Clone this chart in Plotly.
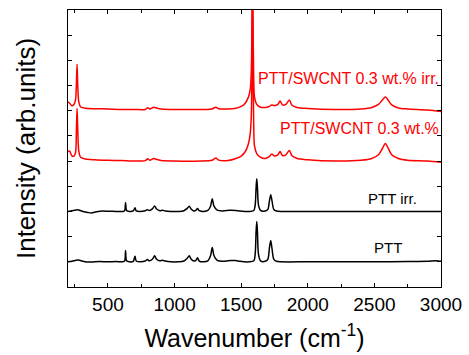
import plotly.graph_objects as go

# ---- data (intensities relative to each baseline) ----
PTT_WN = [200, 230, 260, 280, 300, 330, 350, 375, 400, 440, 500, 560, 610, 625, 632, 640, 660, 690,
          703, 712, 740, 780, 795, 810, 835, 850, 865, 890, 910, 930, 970, 1030, 1070, 1095,
          1110, 1125, 1145, 1160, 1172, 1185, 1220, 1250, 1270, 1283, 1296, 1320, 1360, 1400,
          1420, 1460, 1490, 1560, 1595, 1605, 1612, 1617, 1622, 1630, 1645, 1680, 1700, 1712,
          1722, 1732, 1745, 1765, 1800, 2000, 2250, 2500, 2750, 2900, 2960, 3000]

PTT = [0.0, 0.02, 0.06, 0.07, 0.04, 0.0, -0.01, -0.01, 0.0, 0.01, 0.0, 0.01, 0.0, 0.03, 0.45, 0.04,
       0.0, 0.02, 0.22, 0.03, 0.0, 0.03, 0.09, 0.04, 0.11, 0.24, 0.1, 0.04, 0.06, 0.03, 0.0, 0.0,
       0.03, 0.14, 0.24, 0.1, 0.03, 0.06, 0.16, 0.03, 0.0, 0.04, 0.24, 0.57, 0.24, 0.06, 0.02,
       0.04, 0.05, 0.05, 0.02, 0.0, 0.04, 0.3, 1.2, 1.6, 1.2, 0.3, 0.04, 0.02, 0.1, 0.55, 0.85,
       0.5, 0.1, 0.02, 0.0, 0.0, 0.0, 0.0, 0.01, 0.02, 0.04, 0.02]

PTT_IRR = [0.0, 0.03, 0.06, 0.06, 0.02, -0.02, -0.04, -0.06, -0.03, 0.01, 0.01, 0.0, 0.0, 0.03, 0.36,
           0.04, 0.0, 0.02, 0.15, 0.02, 0.0, 0.03, 0.07, 0.04, 0.11, 0.22, 0.1, 0.03, 0.05, 0.02,
           0.0, 0.0, 0.03, 0.12, 0.21, 0.09, 0.02, 0.04, 0.12, 0.03, 0.0, 0.04, 0.21, 0.5, 0.21,
           0.05, 0.02, 0.04, 0.05, 0.04, 0.02, 0.0, 0.04, 0.25, 0.95, 1.3, 0.95, 0.25, 0.04, 0.02,
           0.08, 0.42, 0.66, 0.4, 0.08, 0.02, 0.0, 0.0, 0.0, 0.0, 0.0, 0.0, 0.0, 0.0]

CNT_WN = [200, 212, 228, 245, 257, 263, 268, 273, 281, 295, 330, 400, 500, 600, 700, 780, 798, 815,
          843, 870, 900, 1000, 1100, 1200, 1280, 1310, 1330, 1400, 1460, 1500, 1530, 1555, 1568,
          1576, 1581, 1585, 1589, 1594, 1600, 1617, 1641, 1680, 1710, 1730, 1750, 1775, 1792,
          1810, 1835, 1862, 1880, 1920, 2000, 2200, 2400, 2480, 2530, 2560, 2582, 2600, 2630,
          2680, 2750, 2900, 3000]

CNT = [0.38, 0.4, 0.22, 0.2, 0.35, 1.2, 2.1, 1.3, 0.4, 0.15, 0.08, 0.05, 0.03, 0.02, 0.0, 0.02,
       0.09, 0.03, 0.1, 0.06, 0.02, 0.0, -0.01, 0.0, 0.03, 0.12, 0.04, 0.02, 0.1, 0.2, 0.37,
       0.7, 1.1, 1.8, 3.5, 7.0, 4.0, 1.5, 0.6, 0.3, 0.17, 0.1, 0.18, 0.28, 0.2, 0.25, 0.38,
       0.22, 0.25, 0.42, 0.22, 0.1, 0.05, 0.0, 0.03, 0.1, 0.25, 0.5, 0.7, 0.55, 0.25, 0.1,
       0.03, 0.0, -0.05]

CNT_IRR = [0.3, 0.25, 0.15, 0.2, 0.4, 1.0, 1.8, 1.0, 0.3, 0.1, 0.05, 0.03, 0.02, 0.0, 0.0, 0.0,
           0.07, 0.02, 0.09, 0.05, 0.02, 0.0, 0.0, 0.0, 0.02, 0.09, 0.03, 0.02, 0.05, 0.12, 0.25,
           0.5, 0.8, 1.5, 3.5, 5.0, 3.5, 1.3, 0.5, 0.2, 0.1, 0.08, 0.12, 0.18, 0.15, 0.2, 0.34,
           0.18, 0.2, 0.38, 0.18, 0.08, 0.04, 0.0, 0.02, 0.08, 0.2, 0.38, 0.5, 0.4, 0.18, 0.06,
           0.02, -0.02, -0.08]

OFFSETS = {"PTT": 1.0, "PTT irr.": 3.0, "PTT/SWCNT 0.3 wt.%": 5.0, "PTT/SWCNT 0.3 wt.% irr.": 7.05}

SERIES = [
    ("PTT", PTT_WN, PTT, "#000000"),
    ("PTT irr.", PTT_WN, PTT_IRR, "#000000"),
    ("PTT/SWCNT 0.3 wt.%", CNT_WN, CNT, "#ff0000"),
    ("PTT/SWCNT 0.3 wt.% irr.", CNT_WN, CNT_IRR, "#ff0000"),
]

FONT = "Liberation Sans, Arial, sans-serif"

fig = go.Figure()
for name, wn, vals, col in SERIES:
    off = OFFSETS[name]
    fig.add_trace(go.Scatter(x=wn, y=[v + off for v in vals], mode="lines",
                             line=dict(color=col, width=1.5, shape="spline", smoothing=0.8),
                             name=name, showlegend=False, cliponaxis=True))

fig.add_annotation(x=1.0, xref="paper", y=8.29, yref="y", text="PTT/SWCNT 0.3 wt.% irr.",
                   showarrow=False, xanchor="right", yanchor="middle",
                   font=dict(family=FONT, size=16, color="#ff0000"))
fig.add_annotation(x=1.0, xref="paper", y=6.31, yref="y", text="PTT/SWCNT 0.3 wt.%",
                   showarrow=False, xanchor="right", yanchor="middle",
                   font=dict(family=FONT, size=16, color="#ff0000"))
fig.add_annotation(x=2636, y=3.53, text="PTT irr.", showarrow=False, xanchor="center",
                   yanchor="middle", font=dict(family=FONT, size=15, color="#000000"))
fig.add_annotation(x=2602, y=1.55, text="PTT", showarrow=False, xanchor="center",
                   yanchor="middle", font=dict(family=FONT, size=15, color="#000000"))

fig.update_layout(
    width=469, height=355,
    margin=dict(l=68, r=28, t=10, b=68, autoexpand=False),
    paper_bgcolor="white", plot_bgcolor="white",
    font=dict(family=FONT, color="#000000"),
)
fig.update_xaxes(range=[200, 3000], tickvals=[500, 1000, 1500, 2000, 2500, 3000],
                 ticks="inside", ticklen=4, tickwidth=1, tickcolor="#000000",
                 minor=dict(tickvals=[250, 750, 1250, 1750, 2250, 2750], ticks="inside",
                            ticklen=3, tickcolor="#000000"),
                 showline=True, linecolor="#000000", linewidth=1, mirror="allticks",
                 showgrid=False, zeroline=False, automargin=False,
                 tickfont=dict(size=19, family=FONT),
                 title=dict(text="Wavenumber (cm<sup>-1</sup>)", font=dict(size=25, family=FONT),
                            standoff=15))
fig.update_yaxes(range=[0, 11], tickvals=list(range(1, 11)), showticklabels=False,
                 ticks="inside", ticklen=4, tickwidth=1, tickcolor="#000000",
                 showline=True, linecolor="#000000", linewidth=1, mirror="allticks",
                 showgrid=False, zeroline=False, automargin=False,
                 title=dict(text="Intensity (arb.units)", font=dict(size=26, family=FONT),
                            standoff=23))

fig.write_html("out.html", config={"displayModeBar": False},
               post_script="document.body.style.margin='0';")
